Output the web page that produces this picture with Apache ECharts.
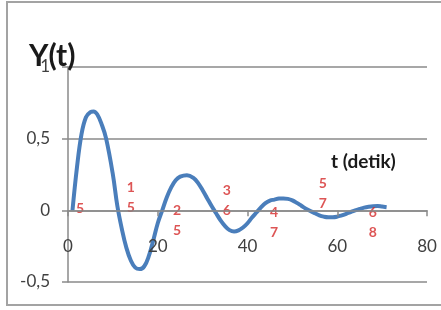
<!DOCTYPE html>
<html>
<head>
<meta charset="utf-8">
<script src="https://cdn.jsdelivr.net/npm/echarts@6/dist/echarts.min.js"></script>
<style>
  html, body { margin: 0; padding: 0; background: #fff; }
  #chart { width: 441px; height: 310px; }
</style>
</head>
<body>
<div id="chart"></div>
<script>
// waktu (detik) dan respon Y(t)
const tValues = [1, 2, 3, 4, 5, 5.7, 6.5, 7.5, 8.5, 10, 11, 12, 13, 14, 15, 16, 17, 18, 19, 20,
  21, 22, 23, 24, 25, 26.5, 28, 29, 30, 31, 32, 33, 34, 35, 36, 37, 38, 39, 40,
  41, 42, 43, 44, 45, 46, 47, 48, 49, 50, 51, 52, 53, 54, 55, 56, 57, 58, 59, 60,
  61, 62, 63, 64, 65, 66, 67, 68, 69, 70, 71];
const yValues = [0, 0.3, 0.53, 0.65, 0.685, 0.69, 0.67, 0.6, 0.5, 0.25, 0.03, -0.13, -0.26, -0.35, -0.4, -0.41, -0.39, -0.32, -0.21, -0.09,
  0.0, 0.09, 0.16, 0.21, 0.235, 0.245, 0.225, 0.19, 0.14, 0.085, 0.03, -0.02, -0.07, -0.11, -0.138, -0.148, -0.14, -0.12, -0.09,
  -0.05, -0.015, 0.02, 0.05, 0.068, 0.075, 0.082, 0.083, 0.08, 0.07, 0.052, 0.032, 0.012, -0.005, -0.02, -0.035, -0.044, -0.048, -0.048, -0.044,
  -0.035, -0.024, -0.012, 0.0, 0.01, 0.019, 0.025, 0.029, 0.03, 0.026, 0.022];

// angka merah di sekitar sumbu
const markT = [2.7, 14, 24.3, 35.4, 45.9, 56.8, 67.9];
const markY = [0.01, 0.09, -0.073, 0.066, -0.083, 0.115, -0.083];
const markText = ["5", "1\n5", "2\n5", "3\n6", "4\n7", "5\n7", "6\n8"];

const xTicks = [0, 20, 40, 60, 80];
const yTicks = [-0.5, 0, 0.5, 1];

const fontName = "Lato, 'Open Sans', sans-serif";
const gridColor = "#8a8a8a";

const lineData = tValues.map((t, i) => [t, yValues[i]]);
const markData = markT.map((t, i) => [t, markY[i], markText[i]]);

const option = {
  animation: false,
  backgroundColor: "#fff",
  grid: {
    left: 68, right: 14, top: 67, bottom: 28,
    containLabel: false,
    outerBoundsMode: "none",
  },
  graphic: [
    {
      type: "rect",
      shape: { x: 7, y: 2, width: 460, height: 303 },
      style: { fill: "none", stroke: "#a3a3a3", lineWidth: 2 },
      silent: true,
      z: 0,
    },
    {
      type: "text",
      left: 29,
      top: 41,
      z: 10,
      style: { text: "Y(t)", font: "bold 30px " + fontName, fill: "#1a1a1a" },
    },
    {
      type: "text",
      left: 331,
      top: 152,
      z: 10,
      style: { text: "t (detik)", font: "bold 19px " + fontName, fill: "#1a1a1a" },
    },
  ],
  xAxis: {
    type: "value",
    min: xTicks[0],
    max: xTicks[xTicks.length - 1],
    interval: 20,
    axisLine: { onZero: true, lineStyle: { color: gridColor, width: 1.5 } },
    axisTick: { show: true, length: 6, lineStyle: { color: gridColor, width: 1.5 } },
    // label digambar dari tepi bawah grid
    axisLabel: { margin: -44, color: "#404040", fontSize: 17, fontFamily: fontName },
    splitLine: { show: false },
    z: 5,
  },
  yAxis: {
    type: "value",
    min: yTicks[0],
    max: yTicks[yTicks.length - 1],
    interval: 0.5,
    axisLine: { show: true, lineStyle: { color: gridColor, width: 1.5 } },
    axisTick: { show: true, length: 6, lineStyle: { color: gridColor, width: 1.5 } },
    axisLabel: {
      margin: 18,
      color: "#404040",
      fontSize: 17,
      fontFamily: fontName,
      // koma sebagai pemisah desimal
      formatter: (v) => String(v).replace(".", ","),
    },
    splitLine: { show: true, lineStyle: { color: gridColor, width: 1.5 } },
  },
  series: [
    {
      name: "Y(t)",
      type: "line",
      data: lineData,
      showSymbol: false,
      smooth: 0.4,
      lineStyle: { color: "#4a7ebb", width: 4 },
      z: 3,
    },
    {
      name: "angka",
      type: "scatter",
      data: markData,
      symbolSize: 1,
      itemStyle: { color: "rgba(0,0,0,0)" },
      label: {
        show: true,
        position: "inside",
        formatter: (p) => p.value[2],
        color: "#d42a2a",
        fontSize: 14,
        fontWeight: "bold",
        lineHeight: 20,
        fontFamily: fontName,
      },
      z: 4,
    },
  ],
};

const chart = echarts.init(document.getElementById("chart"));
chart.setOption(option);
</script>
</body>
</html>
